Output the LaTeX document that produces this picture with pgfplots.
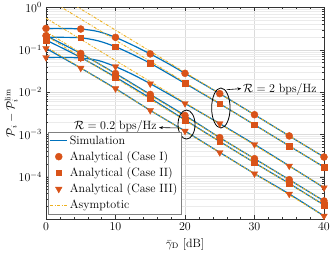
\documentclass[border=0pt,12pt]{standalone}
\usepackage{pgfplots}
\pgfplotsset{compat=1.18}
\usetikzlibrary{arrows.meta}
\definecolor{mblue}{rgb}{0,0.447,0.741}
\definecolor{morange}{rgb}{0.85,0.325,0.098}
\definecolor{myellow}{rgb}{0.929,0.694,0.125}
\begin{document}
\begin{tikzpicture}
\begin{axis}[name=ax, scale only axis, width=278pt, height=211.5pt,
  ymode=log, xmin=0, xmax=40, ymin=1e-5, ymax=1,
  xtick={0,10,20,30,40}, minor x tick num=4,
  ytick={1e-5,1e-4,1e-3,1e-2,1e-1,1},
  yticklabels={,$10^{-4}$,$10^{-3}$,$10^{-2}$,$10^{-1}$,$10^{0}$},
  minor ytick={2e-5,3e-5,4e-5,5e-5,6e-5,7e-5,8e-5,9e-5,
               2e-4,3e-4,4e-4,5e-4,6e-4,7e-4,8e-4,9e-4,
               2e-3,3e-3,4e-3,5e-3,6e-3,7e-3,8e-3,9e-3,
               2e-2,3e-2,4e-2,5e-2,6e-2,7e-2,8e-2,9e-2,
               2e-1,3e-1,4e-1,5e-1,6e-1,7e-1,8e-1,9e-1},
  xmajorgrids, ymajorgrids, yminorgrids,
  major grid style={black!14, line width=0.4pt},
  minor grid style={black!8, line width=0.3pt},
  axis line style={black!80}, tick style={black!80},
  major tick length=4pt, minor tick length=2pt,
  xlabel={$\bar{\gamma}_{\mathrm{D}}$ [dB]},
  ylabel={$\mathcal{P}_i-\mathcal{P}_i^{\mathrm{lim}}$},
  ylabel style={at={(axis description cs:-0.125,0.5)}, anchor=center},
  xlabel style={yshift=1pt},
  legend style={at={(0.007,0.024)}, anchor=south west, draw=black!50,
    inner sep=1.5pt, row sep=1.4pt, legend cell align=left},
  legend cell align=left,
]
\addlegendimage{mblue, line width=1.2pt}
\addlegendentry{Simulation}
\addlegendimage{only marks, mark=*, mark size=3.5pt, morange}
\addlegendentry{Analytical (Case I)}
\addlegendimage{only marks, mark=square*, mark size=2.8pt, morange}
\addlegendentry{Analytical (Case II)}
\addlegendimage{only marks, mark=triangle*, mark size=3.8pt, morange, mark options={rotate=180}}
\addlegendentry{Analytical (Case III)}
\addlegendimage{myellow, line width=0.9pt, dash pattern=on 3pt off 1.5pt on 1pt off 1.5pt}
\addlegendentry{Asymptotic}

% Simulation
\addplot[mblue, line width=1.2pt, smooth, forget plot] coordinates {
(0,0.32) (2.5,0.32) (5,0.31) (7.5,0.27) (10,0.197) (12.5,0.128) (15,0.080) (17.5,0.048) (20,0.0278) (25,9.2e-3) (30,2.92e-3) (35,9.2e-4) (40,2.92e-4)};
\addplot[mblue, line width=1.2pt, smooth, forget plot] coordinates {
(0,0.197) (2.5,0.197) (5,0.192) (7.5,0.163) (10,0.118) (12.5,0.077) (15,0.048) (17.5,0.028) (20,0.0161) (25,5.3e-3) (30,1.69e-3) (35,5.34e-4) (40,1.69e-4)};
\addplot[mblue, line width=1.2pt, smooth, forget plot] coordinates {
(0,0.066) (2.5,0.066) (5,0.064) (7.5,0.056) (10,0.040) (12.5,0.026) (15,0.0158) (17.5,0.0093) (20,5.4e-3) (25,1.8e-3) (30,5.8e-4) (35,1.8e-4) (40,5.5e-5)};
\addplot[mblue, line width=1.2pt, smooth, forget plot] coordinates {
(0,0.215) (5,0.082) (10,0.0275) (15,8.8e-3) (20,2.8e-3) (25,8.4e-4) (30,2.67e-4) (35,8.5e-5) (40,2.67e-5)};
\addplot[mblue, line width=1.2pt, smooth, forget plot] coordinates {
(0,0.17) (5,0.066) (10,0.0225) (15,7.2e-3) (20,2.2e-3) (25,6.8e-4) (30,2.14e-4) (35,6.9e-5) (40,2.14e-5)};
\addplot[mblue, line width=1.2pt, smooth, forget plot] coordinates {
(0,0.108) (5,0.037) (10,0.0121) (15,3.7e-3) (20,1.2e-3) (25,3.75e-4) (30,1.18e-4) (35,3.9e-5) (40,1.18e-5)};

% Asymptotic
\pgfplotsset{asy/.style={myellow, line width=0.9pt, dash pattern=on 3pt off 1.5pt on 1pt off 1.5pt, forget plot}}
\addplot[asy] coordinates {(0,2.92) (40,2.92e-4)};
\addplot[asy] coordinates {(0,1.69) (40,1.69e-4)};
\addplot[asy] coordinates {(0,0.56) (40,5.6e-5)};
\addplot[asy] coordinates {(0,0.267) (40,2.67e-5)};
\addplot[asy] coordinates {(0,0.214) (40,2.14e-5)};
\addplot[asy] coordinates {(0,0.118) (40,1.18e-5)};

% Analytical markers
\pgfplotsset{mk/.style={only marks, morange, forget plot}}
\addplot[mk, mark=*, mark size=3.5pt] coordinates {
(0,0.32) (5,0.31) (10,0.197) (15,0.080) (20,0.0278) (25,9.2e-3) (30,2.92e-3) (35,9.2e-4) (40,2.92e-4)};
\addplot[mk, mark=*, mark size=3.5pt] coordinates {
(0,0.215) (5,0.082) (10,0.0275) (15,8.8e-3) (20,2.8e-3) (25,8.4e-4) (30,2.67e-4) (35,8.5e-5) (40,2.67e-5)};
\addplot[mk, mark=square*, mark size=2.8pt] coordinates {
(0,0.197) (5,0.192) (10,0.118) (15,0.048) (20,0.0161) (25,5.3e-3) (30,1.69e-3) (35,5.34e-4) (40,1.69e-4)};
\addplot[mk, mark=square*, mark size=2.8pt] coordinates {
(0,0.17) (5,0.066) (10,0.0225) (15,7.2e-3) (20,2.2e-3) (25,6.8e-4) (30,2.14e-4) (35,6.9e-5) (40,2.14e-5)};
\addplot[mk, mark=triangle*, mark size=3.8pt, mark options={rotate=180}] coordinates {
(0,0.066) (5,0.064) (10,0.040) (15,0.0158) (20,5.4e-3) (25,1.8e-3) (30,5.8e-4) (35,1.8e-4) (40,5.5e-5)};
\addplot[mk, mark=triangle*, mark size=3.8pt, mark options={rotate=180}] coordinates {
(0,0.108) (5,0.037) (10,0.0121) (15,3.7e-3) (20,1.2e-3) (25,3.75e-4) (30,1.18e-4) (35,3.9e-5) (40,1.18e-5)};

% Annotations
\draw[black, line width=0.8pt] (axis cs:25.16,4.21e-3) ellipse [x radius=9.2pt, y radius=20pt];
\draw[black, line width=0.8pt] (axis cs:20.22,1.71e-3) ellipse [x radius=8.5pt, y radius=14.5pt];
\draw[black, line width=0.6pt, -{Stealth[length=4pt,width=3pt]}] (axis cs:26.0,0.0114) -- (axis cs:28.1,0.0121);
\node[anchor=west, inner sep=1pt] at (axis cs:28.2,0.0118) {$\mathcal{R}=2$ bps/Hz};
\draw[black, line width=0.6pt, -{Stealth[length=4pt,width=3pt]}] (axis cs:18.99,1.42e-3) -- (axis cs:16.26,1.45e-3);
\node[anchor=east, inner sep=1pt] at (axis cs:16.1,1.5e-3) {$\mathcal{R}=0.2$ bps/Hz};
\end{axis}
\pgfresetboundingbox
\path[use as bounding box] ([shift={(-46pt,-37pt)}]ax.south west) rectangle ([shift={(8pt,7.5pt)}]ax.north east);
\end{tikzpicture}
\end{document}
